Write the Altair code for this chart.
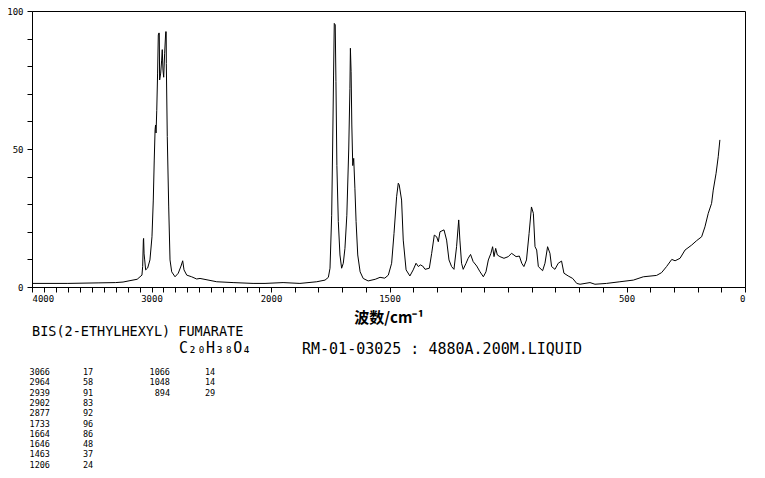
import altair as alt
import pandas as pd

# Raman spectrum (wavenumber cm-1, relative intensity)
wavenumber = [4000, 3700, 3440, 3300, 3238, 3180, 3120, 3096, 3080, 3074, 3068, 3066, 3062, 3057, 3049,
              3032, 3013, 2996, 2985, 2977, 2970, 2966, 2962, 2956, 2949, 2943, 2939, 2935, 2932, 2923,
              2915, 2910, 2904, 2898, 2890, 2881, 2877, 2876, 2868, 2856, 2845, 2831, 2803, 2776, 2753,
              2739, 2728, 2705, 2664, 2622, 2594, 2454, 2317, 2150, 2050, 1949, 1878, 1807, 1772, 1758,
              1751, 1744, 1740, 1736, 1733, 1729, 1726, 1722, 1716, 1709, 1702, 1695, 1688, 1680, 1672,
              1667, 1665, 1662, 1659, 1655, 1651, 1646, 1641, 1634, 1624, 1611, 1590, 1560, 1540, 1520,
              1505, 1491, 1481, 1470, 1463, 1459, 1449, 1442, 1430, 1414, 1400, 1388, 1378, 1370, 1360,
              1350, 1332, 1322, 1311, 1301, 1294, 1287, 1270, 1259, 1249, 1238, 1228, 1217, 1208, 1203,
              1196, 1189, 1177, 1168, 1158, 1147, 1132, 1118, 1104, 1093, 1083, 1072, 1065, 1059, 1052,
              1045, 1034, 1017, 999, 985, 975, 966, 952, 942, 933, 922, 911, 901, 893, 886,
              879, 872, 854, 844, 833, 823, 816, 802, 788, 774, 764, 746, 727, 710, 696,
              654, 633, 584, 528, 471, 429, 373, 352, 331, 309, 295, 274, 253, 225, 204,
              183, 169, 155, 141, 134, 122, 113, 106]
intensity = [1.3, 1.3, 1.5, 1.6, 1.8, 2.3, 2.8, 3.7, 4.3, 7.4, 17.0, 17.6, 12.0, 9.8, 6.2,
             6.9, 9.8, 18.2, 31.5, 46.0, 57.0, 58.7, 55.8, 64.0, 77.5, 91.3, 92.0, 92.0, 75.0, 77.5,
             82.2, 86.0, 78.6, 76.0, 84.7, 92.5, 92.5, 81.0, 54.5, 29.0, 9.8, 5.5, 3.7, 5.0, 7.6,
             9.5, 6.2, 4.3, 3.7, 2.9, 3.1, 1.9, 1.6, 1.3, 1.3, 1.6, 1.3, 1.9, 2.5, 3.5,
             6.8, 26.0, 50.0, 76.8, 95.5, 95.0, 74.4, 44.0, 23.7, 11.6, 6.8, 8.6, 14.0, 26.0, 50.0,
             72.0, 86.5, 78.0, 58.7, 44.0, 46.6, 35.8, 23.7, 11.6, 5.5, 3.1, 2.2, 2.8, 3.5, 3.2,
             4.3, 8.6, 19.4, 32.7, 37.6, 37.0, 31.5, 17.0, 6.2, 4.0, 6.2, 8.6, 7.4, 8.0, 7.6,
             6.4, 6.8, 12.2, 18.8, 18.2, 16.4, 20.0, 20.7, 17.0, 9.8, 7.4, 6.4, 14.6, 24.3, 17.0,
             8.6, 6.4, 8.6, 10.4, 11.8, 9.2, 7.6, 5.5, 3.7, 5.5, 9.8, 12.2, 14.6, 11.0, 14.0,
             11.6, 11.0, 10.4, 11.0, 12.2, 11.6, 11.0, 11.2, 8.6, 7.4, 9.8, 19.4, 29.0, 26.7, 14.6,
             13.4, 7.4, 5.9, 8.6, 14.6, 12.2, 7.4, 6.4, 8.6, 9.4, 5.0, 4.0, 3.1, 1.3, 1.0,
             1.6, 1.0, 1.3, 1.9, 2.5, 3.7, 4.2, 5.2, 7.4, 10.0, 9.5, 10.4, 13.4, 15.2, 16.8,
             18.2, 21.8, 26.7, 30.3, 35.1, 41.2, 47.2, 53.3]

# Peak table
peak_wn = ["3066", "2964", "2939", "2902", "2877", "1733", "1664", "1646", "1463", "1206",
           "1066", "1048", "894"]
peak_int = ["17", "58", "91", "83", "92", "96", "86", "48", "37", "24", "14", "14", "29"]

x_labels = [4000, 3000, 2000, 1500, 500, 0]
compound = "BIS(2-ETHYLHEXYL) FUMARATE"
formula = "C₂₀H₃₈O₄"
record = "RM-01-03025 : 4880A.200M.LIQUID"
x_title = "波数/cm⁻¹"

W, H = 713, 276
MONO = "DejaVu Sans Mono"

spec = pd.DataFrame({"wn": wavenumber, "I": intensity})
peaks = pd.DataFrame({"wn": peak_wn, "I": peak_int, "idx": list(range(len(peak_wn)))})

label_expr = "indexof([" + ",".join(str(v) for v in x_labels) + "], datum.value) >= 0 ? '' + datum.value : ''"

xscale = alt.Scale(domain=[4000, 2000, 0], range=[0, 239, W], nice=False, zero=False)

line = alt.Chart(spec).mark_line(color="black", strokeWidth=1).encode(
    x=alt.X("wn:Q", scale=xscale,
            axis=alt.Axis(values=list(range(0, 4001, 100)), labelExpr=label_expr,
                          labelOverlap=False, title=x_title, grid=False,
                          tickSize=5, labelPadding=2, labelFont=MONO, labelFontSize=9,
                          labelColor="black", tickColor="black", domainColor="black",
                          titleFont="Noto Sans CJK SC", titleFontWeight="bold",
                          titleFontSize=15, titleColor="black", titlePadding=7)),
    y=alt.Y("I:Q", scale=alt.Scale(domain=[0, 100], nice=False),
            axis=alt.Axis(values=list(range(0, 101, 10)),
                          labelExpr="datum.value % 50 == 0 ? '' + datum.value : ''",
                          labelOverlap=False, title=None, grid=False, tickSize=5,
                          labelPadding=4, labelFont=MONO, labelFontSize=9,
                          labelColor="black", tickColor="black", domainColor="black")),
)

t_compound = alt.Chart(pd.DataFrame({"t": [compound]})).mark_text(
    align="left", baseline="middle", font=MONO, fontSize=13.5, color="black"
).encode(text="t:N", x=alt.value(0), y=alt.value(321))

t_formula = alt.Chart(pd.DataFrame({"t": [formula]})).mark_text(
    align="left", baseline="middle", font=MONO, fontSize=15, color="black"
).encode(text="t:N", x=alt.value(147), y=alt.value(337))

t_record = alt.Chart(pd.DataFrame({"t": [record]})).mark_text(
    align="left", baseline="middle", font=MONO, fontSize=15, color="black"
).encode(text="t:N", x=alt.value(270), y=alt.value(338))

base_tab = alt.Chart(peaks).transform_calculate(
    col="floor(datum.idx / 10)",
    py="361 + (datum.idx % 10) * 10.3",
)
t_wn = base_tab.transform_calculate(px="datum.col == 0 ? 18 : 138").mark_text(
    align="right", baseline="middle", font=MONO, fontSize=8.5, color="black"
).encode(text="wn:N", x=alt.X("px:Q", scale=None), y=alt.Y("py:Q", scale=None))
t_int = base_tab.transform_calculate(px="datum.col == 0 ? 51 : 173").mark_text(
    align="left", baseline="middle", font=MONO, fontSize=8.5, color="black"
).encode(text="I:N", x=alt.X("px:Q", scale=None), y=alt.Y("py:Q", scale=None))

chart = alt.layer(line, t_compound, t_formula, t_record, t_wn, t_int).properties(
    width=W, height=H,
    autosize=alt.AutoSizeParams(type="none"),
    padding={"left": 24, "top": 3, "right": 8, "bottom": 182},
    background="white",
).configure_view(stroke="black", strokeWidth=1)

chart.save("out.html", embed_options={"renderer": "svg", "actions": False})
